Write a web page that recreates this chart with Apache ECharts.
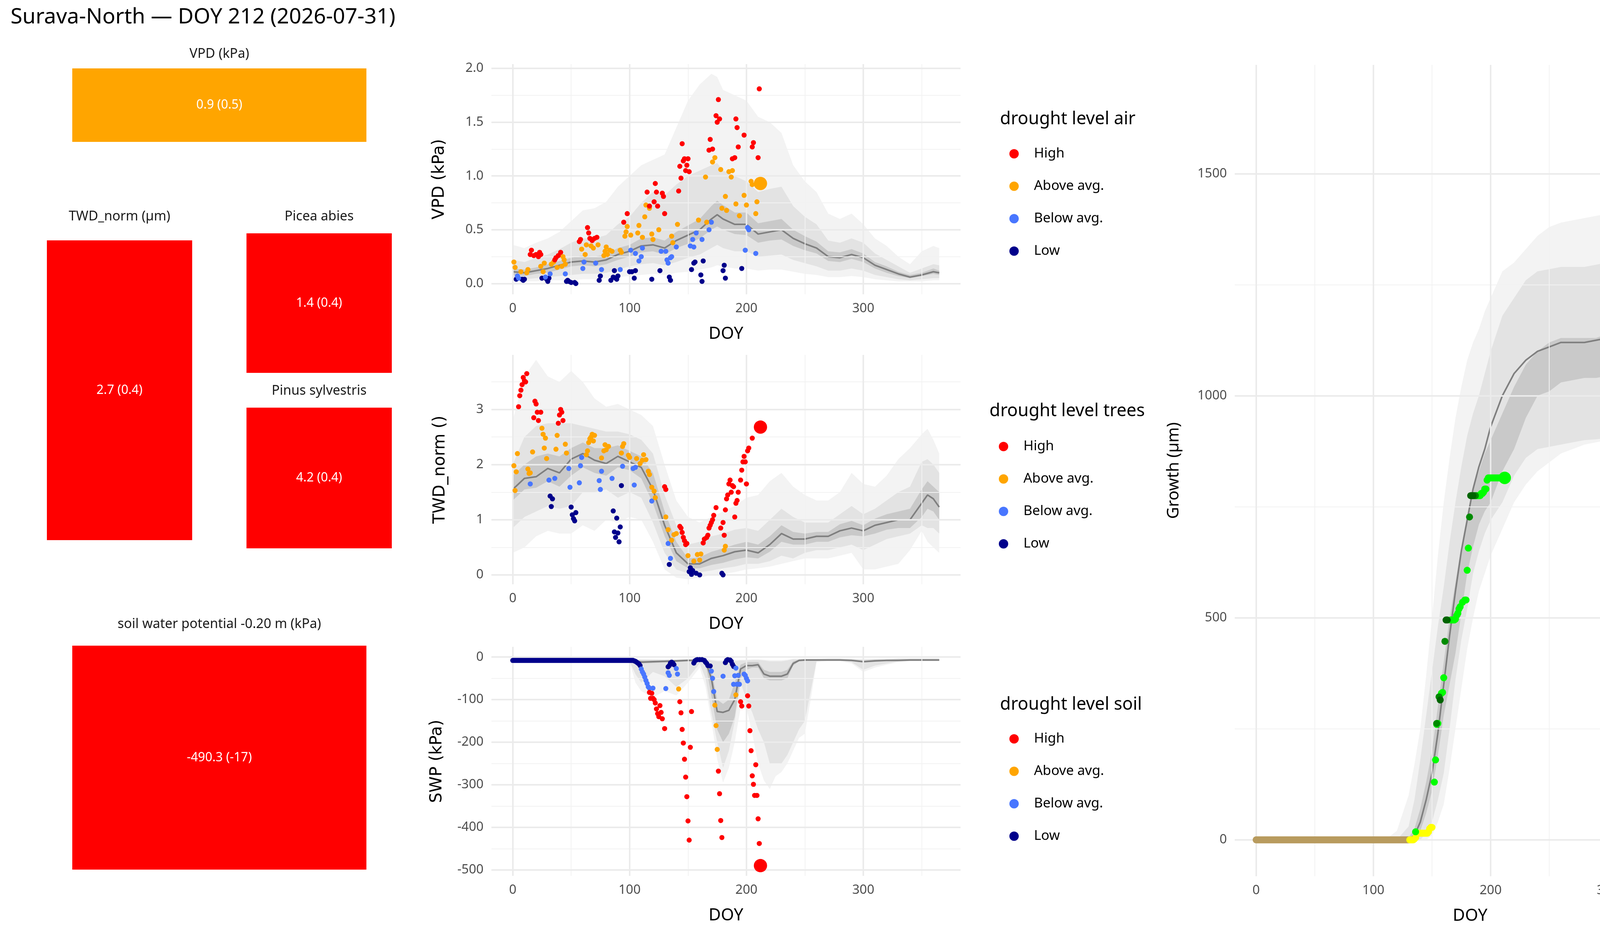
<!DOCTYPE html>
<html><head><meta charset="utf-8">
<script src="https://cdn.jsdelivr.net/npm/echarts@6/dist/echarts.min.js"></script>
<style>html,body{margin:0;padding:0;background:#fff}#c{width:4800px;height:2400px}</style>
</head><body><div id="c"></div>
<script>
// ---------- tiles ----------
const tileLabels = ['VPD (kPa)', 'TWD_norm (µm)', 'Picea abies', 'Pinus sylvestris', 'soil water potential -0.20 m (kPa)'];
const tileValues = ['0.9 (0.5)', '2.7 (0.4)', '1.4 (0.4)', '4.2 (0.4)', '-490.3 (-17)'];
const tileColors = ['#FFA500', '#FF0000', '#FF0000', '#FF0000', '#FF0000'];

const levels = ['High', 'Above avg.', 'Below avg.', 'Low'];
const levelColors = ['#FF0000', '#FFA500', '#4876FF', '#00008B'];
const growthLevels = ['High', 'Above avg.', 'Below avg.', 'Low', 'Dormant'];
const growthColors = ['#006400', '#008B00', '#00FF00', '#FFFF00', '#B89B5E'];
const xMajor = [0, 100, 200, 300];
const xMinor = [50, 150, 250, 350];

// ---------- VPD ----------
const vpdDoy = [0,10,20,30,40,50,60,70,80,90,100,110,120,130,140,150,160,170,175,180,190,200,210,220,230,240,250,260,270,280,290,300,310,320,330,340,350,360,365];
const vpdMed = [0.11,0.10,0.12,0.14,0.17,0.20,0.21,0.20,0.22,0.27,0.30,0.35,0.36,0.33,0.40,0.45,0.50,0.60,0.64,0.60,0.55,0.55,0.46,0.48,0.50,0.42,0.37,0.33,0.25,0.24,0.27,0.24,0.17,0.13,0.09,0.06,0.08,0.11,0.10];
const vpdInLo = [0.08,0.07,0.09,0.10,0.13,0.16,0.17,0.16,0.18,0.22,0.25,0.29,0.30,0.27,0.33,0.37,0.42,0.50,0.53,0.50,0.46,0.45,0.38,0.40,0.41,0.35,0.31,0.28,0.21,0.20,0.23,0.20,0.14,0.10,0.07,0.05,0.07,0.09,0.08];
const vpdInHi = [0.14,0.13,0.15,0.18,0.21,0.24,0.26,0.25,0.27,0.33,0.36,0.42,0.43,0.40,0.48,0.54,0.60,0.72,0.77,0.73,0.66,0.66,0.56,0.58,0.60,0.50,0.44,0.39,0.30,0.29,0.32,0.28,0.20,0.16,0.11,0.08,0.10,0.14,0.12];
const vpdMidLo = [0.04,0.04,0.05,0.06,0.07,0.08,0.09,0.09,0.10,0.13,0.16,0.18,0.19,0.17,0.20,0.24,0.27,0.33,0.36,0.33,0.30,0.30,0.25,0.26,0.27,0.22,0.19,0.16,0.12,0.12,0.14,0.12,0.08,0.06,0.04,0.03,0.04,0.05,0.05];
const vpdMidHi = [0.22,0.20,0.24,0.27,0.32,0.38,0.42,0.42,0.45,0.55,0.62,0.75,0.85,0.82,0.92,1.00,1.05,1.10,1.12,1.05,1.00,0.95,0.85,0.88,0.90,0.72,0.62,0.55,0.40,0.38,0.42,0.38,0.28,0.22,0.16,0.10,0.14,0.18,0.17];
const vpdOutLo = [0.02,0.02,0.02,0.03,0.03,0.03,0.04,0.04,0.05,0.06,0.07,0.08,0.09,0.08,0.10,0.11,0.13,0.15,0.17,0.16,0.14,0.14,0.12,0.13,0.13,0.11,0.09,0.08,0.06,0.06,0.07,0.06,0.04,0.03,0.02,0.02,0.02,0.03,0.03];
const vpdOutHi = [0.36,0.33,0.38,0.42,0.48,0.58,0.68,0.70,0.76,0.90,1.00,1.10,1.15,1.20,1.45,1.70,1.85,1.95,1.92,1.80,1.75,1.70,1.55,1.50,1.40,1.10,0.95,0.85,0.65,0.60,0.65,0.55,0.42,0.35,0.25,0.18,0.30,0.35,0.33];
const vpdHigh = [[15,0.27],[16,0.31],[18,0.26],[20,0.27],[22,0.25],[23,0.29],[24,0.27],[36,0.22],[37,0.24],[39,0.26],[41,0.29],[57,0.39],[58,0.41],[64,0.52],[65,0.47],[66,0.42],[68,0.40],[70,0.42],[72,0.43],[95,0.57],[98,0.65],[115,0.85],[117,0.72],[121,0.76],[122,0.93],[123,0.85],[124,0.72],[128,0.84],[129,0.81],[130,0.65],[142,0.86],[143,1.09],[144,0.98],[145,1.30],[146,1.14],[147,1.16],[148,1.05],[149,1.10],[150,1.16],[151,1.04],[168,1.24],[169,1.34],[171,1.25],[174,1.56],[175,1.50],[176,1.71],[177,1.53],[188,1.16],[190,1.17],[191,1.53],[192,1.45],[193,1.27],[198,1.38],[205,1.27],[206,1.31],[210,1.17],[211,1.81]];
const vpdAbove = [[1,0.20],[2,0.15],[7,0.11],[12,0.10],[13,0.13],[24,0.16],[26,0.11],[27,0.19],[33,0.18],[35,0.20],[38,0.15],[42,0.16],[43,0.25],[44,0.22],[45,0.18],[59,0.32],[62,0.27],[63,0.36],[67,0.35],[69,0.33],[73,0.36],[78,0.26],[79,0.30],[80,0.34],[81,0.27],[83,0.31],[85,0.30],[92,0.31],[93,0.29],[96,0.44],[97,0.48],[98,0.53],[101,0.45],[107,0.47],[108,0.54],[111,0.43],[113,0.62],[114,0.73],[117,0.70],[119,0.46],[120,0.41],[125,0.50],[136,0.44],[137,0.38],[141,0.55],[159,0.59],[165,0.99],[166,0.57],[171,1.13],[173,1.17],[178,1.06],[179,0.70],[182,0.81],[183,0.68],[185,1.04],[187,0.99],[188,1.05],[191,0.74],[194,0.63],[198,0.82],[200,0.73],[204,0.95],[205,0.92],[208,0.65],[209,0.76]];
const vpdBelow = [[4,0.07],[5,0.05],[28,0.06],[32,0.09],[45,0.09],[60,0.14],[61,0.20],[71,0.19],[76,0.13],[92,0.13],[101,0.31],[105,0.28],[108,0.21],[110,0.25],[111,0.33],[127,0.30],[131,0.30],[132,0.22],[133,0.19],[135,0.24],[136,0.25],[140,0.34],[152,0.35],[154,0.41],[155,0.34],[157,0.47],[162,0.41],[168,0.50],[170,0.57],[199,0.31],[201,0.52],[202,0.50],[208,0.28]];
const vpdLow = [[3,0.04],[8,0.04],[9,0.03],[10,0.04],[25,0.05],[29,0.04],[30,0.02],[31,0.05],[46,0.02],[47,0.03],[48,0.02],[50,0.01],[53,0.01],[54,0.00],[74,0.03],[75,0.07],[84,0.03],[86,0.06],[87,0.12],[88,0.05],[89,0.04],[90,0.07],[100,0.11],[102,0.11],[104,0.05],[105,0.12],[119,0.04],[126,0.12],[134,0.06],[135,0.03],[153,0.13],[155,0.19],[156,0.20],[161,0.08],[162,0.02],[163,0.21],[180,0.12],[181,0.17],[182,0.05],[196,0.14]];
const vpdNow = [[212,0.93]];

// ---------- TWD ----------
const twdDoy = [0,10,20,30,40,50,60,70,80,90,100,110,120,130,140,150,160,170,180,190,200,210,220,230,240,250,260,270,280,290,300,310,320,330,340,350,355,360,365];
const twdMed = [1.55,1.75,1.78,1.93,1.85,2.10,2.20,2.08,2.02,2.15,2.05,1.95,1.55,0.90,0.40,0.20,0.20,0.30,0.35,0.42,0.45,0.40,0.55,0.75,0.65,0.65,0.70,0.70,0.80,0.85,0.80,0.90,0.95,1.00,1.00,1.30,1.45,1.38,1.23];
const twdInLo = [1.35,1.55,1.58,1.70,1.60,1.80,1.95,1.85,1.80,1.95,1.90,1.75,1.30,0.70,0.25,0.12,0.12,0.18,0.22,0.28,0.32,0.30,0.42,0.60,0.55,0.55,0.60,0.60,0.68,0.72,0.70,0.75,0.82,0.85,0.85,1.05,1.20,1.15,1.00];
const twdInHi = [1.80,2.00,2.15,2.20,2.15,2.30,2.40,2.30,2.30,2.35,2.25,2.15,1.85,1.15,0.60,0.30,0.32,0.42,0.48,0.55,0.60,0.55,0.70,0.90,0.78,0.75,0.78,0.78,0.92,0.98,0.90,1.02,1.10,1.15,1.20,1.55,1.70,1.60,1.50];
const twdMidLo = [0.85,1.05,1.15,1.25,1.20,1.25,1.50,1.50,1.55,1.40,1.50,1.40,0.95,0.40,0.10,0.03,0.05,0.08,0.12,0.15,0.20,0.20,0.25,0.35,0.30,0.40,0.45,0.45,0.50,0.55,0.45,0.55,0.65,0.70,0.75,0.90,0.85,0.85,0.75];
const twdMidHi = [2.00,2.50,2.70,2.75,2.75,2.75,2.70,2.65,2.60,2.60,2.55,2.45,2.20,1.45,0.90,0.55,0.60,0.70,0.75,0.82,0.85,0.80,1.00,1.20,1.05,0.95,0.95,0.95,1.10,1.25,1.10,1.20,1.35,1.50,1.60,2.05,2.10,2.00,1.85];
const twdOutLo = [0.40,0.50,0.70,0.80,0.75,0.75,0.90,0.80,1.00,0.95,1.05,1.00,0.60,0.10,-0.05,-0.08,-0.05,0.00,0.02,0.05,0.10,0.12,0.15,0.20,0.25,0.30,0.30,0.30,0.35,0.40,0.10,0.10,0.15,0.20,0.45,0.80,0.60,0.50,0.40];
const twdOutHi = [2.80,3.60,3.90,3.60,3.50,3.70,3.50,3.20,3.05,3.10,3.00,2.90,2.70,2.00,1.35,1.05,0.95,1.05,1.15,1.25,1.40,1.45,1.70,1.85,1.60,1.45,1.35,1.35,1.50,1.85,1.65,1.60,1.80,2.10,2.30,2.55,2.65,2.45,2.20];
const twdHigh = [[5,3.05],[6,3.25],[7,3.35],[8,3.45],[9,3.58],[10,3.52],[11,3.50],[12,3.65],[18,2.85],[19,3.15],[20,3.10],[21,2.95],[22,2.80],[24,2.95],[39,2.75],[40,2.90],[41,3.00],[42,2.95],[43,2.80],[130,1.60],[131,1.55],[143,0.88],[144,0.85],[145,0.77],[146,0.68],[147,0.62],[148,0.55],[149,0.57],[163,0.58],[164,0.65],[166,0.68],[167,0.72],[168,0.85],[169,0.90],[170,0.95],[171,1.00],[172,1.08],[174,1.22],[178,0.85],[180,0.95],[181,0.72],[182,1.18],[183,1.38],[184,1.45],[185,1.65],[186,1.72],[187,1.50],[188,1.62],[189,1.60],[190,1.05],[191,1.30],[192,1.35],[193,1.50],[195,1.72],[196,1.90],[197,2.05],[198,2.15],[199,2.05],[200,1.65],[201,2.25],[202,2.30],[205,2.48]];
const twdAbove = [[1,1.98],[2,1.53],[3,1.87],[4,2.20],[13,1.92],[14,1.84],[15,1.85],[17,2.23],[25,2.66],[26,2.55],[27,2.30],[28,2.48],[29,2.11],[37,2.28],[38,2.53],[45,2.37],[46,2.21],[63,2.18],[64,2.25],[65,2.40],[66,2.47],[67,2.50],[68,2.55],[69,2.43],[70,2.53],[76,2.12],[78,2.25],[79,2.36],[80,2.27],[82,2.33],[93,2.21],[94,2.33],[95,2.38],[99,2.17],[100,2.13],[106,2.11],[109,2.02],[111,2.08],[112,2.18],[114,2.09],[116,1.88],[117,1.82],[119,1.59],[121,1.52],[122,1.40],[131,1.05],[133,0.82],[136,0.63],[138,0.73],[140,0.75],[150,0.35],[155,0.25],[158,0.37],[160,0.27],[161,0.38],[181,0.45],[182,0.52]];
const twdBelow = [[15,1.65],[31,1.72],[36,1.75],[48,1.93],[49,1.59],[57,1.67],[58,1.98],[59,2.13],[74,1.71],[75,1.55],[76,1.88],[85,1.75],[94,1.97],[103,1.93],[104,1.63],[105,1.95],[119,1.34],[133,0.57],[135,0.30]];
const twdLow = [[32,1.43],[33,1.24],[34,1.38],[50,1.23],[51,1.09],[52,1.02],[53,0.98],[54,1.13],[86,1.16],[87,0.78],[88,0.68],[89,1.03],[90,0.76],[91,0.60],[92,0.87],[93,1.62],[134,0.19],[151,0.06],[152,0.13],[153,0.01],[154,0.08],[157,0.03],[160,0.00],[179,0.03],[180,0.00]];
const twdNow = [[212,2.68]];

// ---------- SWP ----------
const swpDoy = [0,100,105,110,120,130,140,150,160,165,170,175,180,185,190,195,200,205,210,215,220,225,230,235,240,245,250,255,260,270,280,290,300,310,320,330,340,350,365];
const swpMed = [-8,-8,-10,-12,-11,-10,-9,-8,-8,-10,-50,-128,-130,-125,-100,-28,-20,-20,-18,-40,-45,-45,-45,-40,-15,-8,-7,-7,-7,-7,-7,-8,-11,-9,-8,-8,-7,-7,-7];
const swpInLo = [-9,-9,-12,-15,-14,-13,-12,-10,-10,-14,-90,-170,-200,-180,-140,-50,-30,-25,-25,-50,-55,-55,-55,-50,-20,-10,-9,-9,-9,-8,-8,-9,-13,-10,-9,-9,-8,-8,-8];
const swpInHi = [-6,-6,-7,-8,-8,-8,-7,-6,-6,-7,-30,-100,-110,-100,-60,-18,-12,-12,-12,-30,-35,-35,-35,-30,-10,-6,-5,-5,-5,-5,-5,-6,-8,-6,-6,-5,-5,-5,-5];
const swpMidLo = [-9,-10,-40,-60,-35,-45,-70,-50,-15,-50,-130,-200,-260,-220,-150,-60,-100,-130,-170,-200,-250,-250,-250,-230,-200,-170,-150,-80,-10,-8,-8,-12,-30,-20,-15,-10,-9,-9,-9];
const swpMidHi = [-5,-5,-6,-6,-6,-6,-6,-5,-5,-6,-8,-10,-10,-10,-10,-8,-8,-7,-7,-8,-10,-10,-10,-8,-5,-5,-5,-5,-5,-4,-4,-5,-6,-5,-5,-4,-4,-4,-4];
const swpOutLo = [-10,-11,-60,-80,-95,-80,-90,-60,-25,-70,-150,-240,-295,-260,-200,-120,-120,-180,-250,-290,-310,-280,-270,-250,-220,-190,-180,-100,-12,-10,-10,-15,-35,-25,-18,-12,-10,-10,-10];
const swpOutHi = [-4,-4,-5,-5,-5,-5,-5,-4,-4,-5,-6,-7,-7,-7,-7,-6,-6,-5,-5,-6,-7,-7,-7,-6,-4,-4,-4,-4,-4,-3,-3,-4,-4,-4,-4,-3,-3,-3,-3];
// daily values DOY 0..103 (index = DOY)
const swpLowEarly = [-8,-8,-8,-8,-8,-8,-8,-8,-8,-8,-8,-8,-8,-8,-8,-8,-8,-8,-8,-8,-8,-8,-8,-8,-8,-8,-8,-8,-8,-8,-8,-8,-8,-8,-8,-8,-8,-8,-8,-8,-8,-8,-8,-8,-8,-8,-8,-8,-8,-8,-8,-8,-8,-8,-8,-8,-8,-8,-8,-8,-8,-8,-8,-8,-8,-8,-8,-8,-8,-8,-8,-8,-8,-8,-8,-8,-8,-8,-8,-8,-8,-8,-8,-8,-8,-8,-8,-8,-8,-8,-8,-8,-8,-8,-8,-8,-8,-8,-8,-8,-8,-8,-8,-8];
const swpLowLate = [[104,-9],[105,-10],[106,-12],[107,-14],[108,-16],[109,-20],[133,-23],[134,-20],[135,-14],[136,-12],[137,-14],[138,-18],[155,-14],[156,-9],[157,-7],[158,-6],[160,-6],[162,-6],[164,-8],[165,-12],[166,-15],[167,-20],[169,-21],[182,-13],[183,-8],[184,-6],[186,-7],[187,-10],[188,-17],[189,-22]];
const swpBelow = [[110,-28],[111,-35],[112,-40],[113,-47],[114,-55],[115,-62],[116,-70],[117,-73],[120,-73],[131,-74],[133,-37],[134,-43],[140,-27],[141,-40],[170,-33],[171,-50],[172,-81],[180,-45],[189,-64],[190,-44],[191,-26],[192,-64],[193,-43],[194,-64],[198,-40],[199,-43],[200,-50],[201,-56]];
const swpAbove = [[142,-75],[173,-113],[174,-161],[175,-217],[191,-89]];
const swpHigh = [[117,-83],[118,-97],[119,-85],[120,-97],[121,-100],[122,-108],[123,-122],[124,-133],[125,-140],[126,-114],[127,-130],[128,-145],[130,-168],[143,-105],[144,-131],[145,-170],[146,-202],[147,-240],[148,-282],[149,-328],[150,-385],[151,-430],[152,-212],[153,-128],[176,-268],[177,-321],[178,-384],[179,-424],[195,-105],[196,-115],[201,-91],[202,-115],[203,-173],[204,-220],[205,-279],[206,-299],[207,-325],[208,-253],[209,-325],[210,-380],[211,-438]];
const swpNow = [[212,-490]];

// ---------- Growth ----------
const grDoy = [0,110,120,130,135,140,145,150,155,160,165,170,175,180,185,190,195,200,210,220,230,240,250,260,270,280,290,300,320,340,355,361,365];
const grMed = [0,0,0,2,10,40,90,150,240,350,460,560,650,720,790,840,880,930,1000,1050,1080,1100,1110,1120,1120,1120,1125,1130,1135,1140,1140,1140,1140];
const grInLo = [0,0,0,0,2,20,60,110,190,280,350,420,510,600,660,710,740,760,830,880,950,1000,1010,1030,1035,1040,1040,1045,1050,1070,1095,1095,1095];
const grInHi = [0,0,0,5,25,70,130,200,300,400,500,580,660,730,790,830,870,900,960,1020,1070,1100,1120,1130,1130,1130,1130,1140,1150,1160,1160,1170,1505];
const grMidLo = [0,0,0,0,0,0,15,40,90,150,250,360,450,520,600,650,690,720,760,820,860,880,885,890,895,900,902,905,930,950,960,970,990];
const grMidHi = [0,0,0,30,90,180,280,380,480,570,670,760,840,910,960,1000,1050,1100,1180,1220,1260,1280,1285,1290,1290,1290,1295,1300,1330,1340,1340,1345,1580];
const grOutLo = [0,0,0,0,0,0,0,10,40,80,160,250,340,430,500,560,600,640,700,760,800,830,850,870,880,890,895,900,910,930,960,975,985];
const grOutHi = [0,0,20,100,170,250,370,500,640,760,860,950,1020,1080,1120,1150,1190,1220,1280,1300,1330,1360,1380,1390,1395,1400,1405,1410,1410,1430,1435,1440,1690];
// daily values DOY 0..130 (index = DOY)
const grDormant = [0,0,0,0,0,0,0,0,0,0,0,0,0,0,0,0,0,0,0,0,0,0,0,0,0,0,0,0,0,0,0,0,0,0,0,0,0,0,0,0,0,0,0,0,0,0,0,0,0,0,0,0,0,0,0,0,0,0,0,0,0,0,0,0,0,0,0,0,0,0,0,0,0,0,0,0,0,0,0,0,0,0,0,0,0,0,0,0,0,0,0,0,0,0,0,0,0,0,0,0,0,0,0,0,0,0,0,0,0,0,0,0,0,0,0,0,0,0,0,0,0,0,0,0,0,0,0,0,0,0,0];
const grLow = [[131,0],[132,0],[133,0],[134,0],[135,2],[136,5],[138,15],[139,15],[140,15],[141,15],[142,15],[143,15],[144,15],[145,15],[146,15],[147,18],[148,25],[149,28],[150,28]];
const grBelow = [[136,18],[152,130],[153,180],[154,260],[155,262],[158,330],[159,332],[160,365],[166,495],[167,495],[168,495],[169,495],[170,497],[171,505],[172,510],[173,520],[174,525],[176,535],[178,540],[179,540],[180,607],[181,657],[188,775],[189,775],[190,775],[191,775],[192,780],[193,780],[194,783],[195,790],[196,790],[197,810],[198,815],[199,815],[200,815],[201,815],[202,815],[203,815],[204,815],[205,815],[206,815],[207,815],[208,815],[209,815],[210,815],[211,815]];
const grAbove = [[154,262],[156,322],[161,447],[182,727],[186,775],[187,775]];
const grHigh = [[157,315],[162,495],[163,495],[183,775],[184,775],[185,775]];
const grNow = [[212,815]];

// ---------- build ----------
const FONT = 'Noto Sans';
const chart = echarts.init(document.getElementById('c'), null, {renderer: 'canvas'});

function bandSeries(gi, doy, lo, hi, color, z) {
  return {type: 'custom', xAxisIndex: gi, yAxisIndex: gi, z: z, silent: true, data: [0],
    renderItem: function (params, api) {
      const pts = [];
      for (let i = 0; i < doy.length; i++) pts.push(api.coord([doy[i], hi[i]]));
      for (let i = doy.length - 1; i >= 0; i--) pts.push(api.coord([doy[i], lo[i]]));
      return {type: 'polygon', shape: {points: pts}, style: {fill: color}};
    }};
}
function gridLines(gi, yMajor, yMinor) {
  const ml = [];
  xMinor.forEach(v => ml.push({xAxis: v, lineStyle: {color: '#F2F2F2', width: 2, type: 'solid'}}));
  yMinor.forEach(v => ml.push({yAxis: v, lineStyle: {color: '#F2F2F2', width: 2, type: 'solid'}}));
  xMajor.forEach(v => ml.push({xAxis: v, lineStyle: {color: '#EBEBEB', width: 4, type: 'solid'}}));
  yMajor.forEach(v => ml.push({yAxis: v, lineStyle: {color: '#EBEBEB', width: 4, type: 'solid'}}));
  return {type: 'line', xAxisIndex: gi, yAxisIndex: gi, z: 0, data: [[0, yMajor[0]]], symbol: 'none',
    lineStyle: {opacity: 0}, silent: true,
    markLine: {silent: true, symbol: 'none', label: {show: false}, animation: false, data: ml}};
}
function medLine(gi, doy, med) {
  return {type: 'line', xAxisIndex: gi, yAxisIndex: gi, z: 4, symbol: 'none', silent: true,
    data: doy.map((d, i) => [d, med[i]]), lineStyle: {color: '#7F7F7F', width: 4}};
}
function pts(gi, name, data, color, size, z) {
  return {type: 'scatter', name: name, xAxisIndex: gi, yAxisIndex: gi, z: z || 5, data: data,
    symbolSize: size, itemStyle: {color: color, opacity: 1}, silent: true};
}

const grids = [
  {left: 1258, top: 164, width: 1201, height: 589},
  {left: 1258, top: 908, width: 1201, height: 587},
  {left: 1258, top: 1655, width: 1201, height: 586},
  {left: 3161, top: 166, width: 1205, height: 2076}
];
const yCfg = [
  {min: -0.1, max: 2.04, labels: [0, 0.5, 1, 1.5, 2], minor: [0.25, 0.75, 1.25, 1.75], name: 'VPD (kPa)', fmt: v => v.toFixed(1), gap: 112, nf: 'DejaVu Sans'},
  {min: -0.17, max: 3.99, labels: [0, 1, 2, 3], minor: [0.5, 1.5, 2.5, 3.5], name: 'TWD_norm ()', fmt: v => String(v), gap: 110, nf: 'DejaVu Sans'},
  {min: -514, max: 24, labels: [-500, -400, -300, -200, -100, 0], minor: [-450, -350, -250, -150, -50], name: 'SWP (kPa)', fmt: v => String(v), gap: 118, nf: 'DejaVu Sans'},
  {min: -82, max: 1745, labels: [0, 500, 1000, 1500], minor: [250, 750, 1250], name: 'Growth (µm)', fmt: v => String(v), gap: 135, nf: FONT}
];
const xAxes = grids.map((g, i) => ({type: 'value', gridIndex: i, min: -18.25, max: 383.25,
  splitLine: {show: false}, axisLine: {show: false}, axisTick: {show: false},
  axisLabel: {customValues: xMajor, color: '#4D4D4D', fontSize: 33, fontFamily: FONT, margin: 20},
  name: 'DOY', nameLocation: 'middle', nameGap: 80,
  nameTextStyle: {fontSize: 43, fontFamily: FONT, color: '#000'}}));
const yAxes = yCfg.map((c, i) => ({type: 'value', gridIndex: i, min: c.min, max: c.max,
  splitLine: {show: false}, axisLine: {show: false}, axisTick: {show: false},
  axisLabel: {customValues: c.labels, formatter: c.fmt, color: '#4D4D4D', fontSize: 33, fontFamily: FONT, margin: 20},
  name: c.name, nameLocation: 'middle', nameGap: c.gap, nameRotate: 90,
  nameTextStyle: {fontSize: 42, fontFamily: c.nf, color: '#000'}}));

const series = [];
const panels = [
  {key: 'air', doy: vpdDoy, med: vpdMed, bands: [[vpdOutLo, vpdOutHi], [vpdMidLo, vpdMidHi], [vpdInLo, vpdInHi]], pts: [vpdHigh, vpdAbove, vpdBelow, vpdLow], now: vpdNow, nowColor: levelColors[1]},
  {key: 'trees', doy: twdDoy, med: twdMed, bands: [[twdOutLo, twdOutHi], [twdMidLo, twdMidHi], [twdInLo, twdInHi]], pts: [twdHigh, twdAbove, twdBelow, twdLow], now: twdNow, nowColor: levelColors[0]},
  {key: 'soil', doy: swpDoy, med: swpMed, bands: [[swpOutLo, swpOutHi], [swpMidLo, swpMidHi], [swpInLo, swpInHi]], pts: [swpHigh, swpAbove, swpBelow, swpLowEarly.map((v, d) => [d, v]).concat(swpLowLate)], now: swpNow, nowColor: levelColors[0]}
];
const bandColors = ['#F3F3F3', '#E3E3E3', '#C9C9C9'];
panels.forEach((p, gi) => {
  series.push(gridLines(gi, yCfg[gi].labels, yCfg[gi].minor));
  p.bands.forEach((b, k) => series.push(bandSeries(gi, p.doy, b[0], b[1], bandColors[k], 1 + k * 0.1)));
  series.push(medLine(gi, p.doy, p.med));
  for (let k = 3; k >= 0; k--) series.push(pts(gi, p.key + '|' + levels[k], p.pts[k], levelColors[k], 13));
  series.push(pts(gi, p.key + '|now', p.now, p.nowColor, 34, 6));
});
series.push(gridLines(3, yCfg[3].labels, yCfg[3].minor));
[[grOutLo, grOutHi], [grMidLo, grMidHi], [grInLo, grInHi]].forEach((b, k) => series.push(bandSeries(3, grDoy, b[0], b[1], bandColors[k], 1 + k * 0.1)));
series.push(medLine(3, grDoy, grMed));
const grPts = [grHigh, grAbove, grBelow, grLow, grDormant.map((v, d) => [d, v])];
for (let k = 4; k >= 0; k--) series.push(pts(3, 'growth|' + growthLevels[k], grPts[k], growthColors[k], 18));
series.push(pts(3, 'growth|now', grNow, growthColors[2], 32, 6));

function legendFor(key, names, left, top) {
  return {orient: 'vertical', left: left, top: top, itemWidth: 24, itemHeight: 24, itemGap: 48,
    icon: 'circle', data: names.map(n => key + '|' + n), selectedMode: false,
    formatter: n => n.split('|')[1],
    textStyle: {fontSize: 35, fontFamily: FONT, color: '#000', padding: [0, 0, 0, 34]}};
}

const tileBoxes = [[185, 175, 753, 188, 138], [120, 615, 372, 767, 554], [631, 597, 372, 357, 554], [631, 1043, 372, 360, 1000], [185, 1652, 753, 573, 1597]];
const graphic = [];
tileBoxes.forEach((b, i) => {
  graphic.push({type: 'rect', left: b[0], top: b[1], shape: {width: b[2], height: b[3]}, style: {fill: tileColors[i]}, silent: true});
  graphic.push({type: 'text', x: b[0] + b[2] / 2, y: b[1] + b[3] / 2, style: {text: tileValues[i], fill: '#fff', font: '32px "Noto Sans"', align: 'center', verticalAlign: 'middle'}});
  graphic.push({type: 'text', x: b[0] + b[2] / 2, y: b[4], style: {text: tileLabels[i], fill: '#1A1A1A', font: '34px "Noto Sans"', align: 'center', verticalAlign: 'middle'}});
});

chart.setOption({
  animation: false,
  backgroundColor: '#fff',
  title: [
    {text: 'Surava-North — DOY 212 (2026-07-31)', left: 22, top: 12, textStyle: {fontSize: 55, fontWeight: 'normal', fontFamily: FONT, color: '#000'}},
    {text: 'drought level air', left: 2555, top: 278, textStyle: {fontSize: 45, fontWeight: 'normal', fontFamily: FONT, color: '#000'}},
    {text: 'drought level trees', left: 2528, top: 1025, textStyle: {fontSize: 45, fontWeight: 'normal', fontFamily: FONT, color: '#000'}},
    {text: 'drought level soil', left: 2555, top: 1776, textStyle: {fontSize: 45, fontWeight: 'normal', fontFamily: FONT, color: '#000'}},
    {text: 'growth status', left: 4432, top: 985, textStyle: {fontSize: 45, fontWeight: 'normal', fontFamily: FONT, color: '#000'}}
  ],
  legend: [
    legendFor('air', levels, 2579, 371),
    legendFor('trees', levels, 2552, 1120),
    legendFor('soil', levels, 2579, 1868),
    legendFor('growth', growthLevels, 4458, 1081)
  ],
  grid: grids,
  xAxis: xAxes,
  yAxis: yAxes,
  series: series,
  graphic: graphic
});
</script></body></html>
